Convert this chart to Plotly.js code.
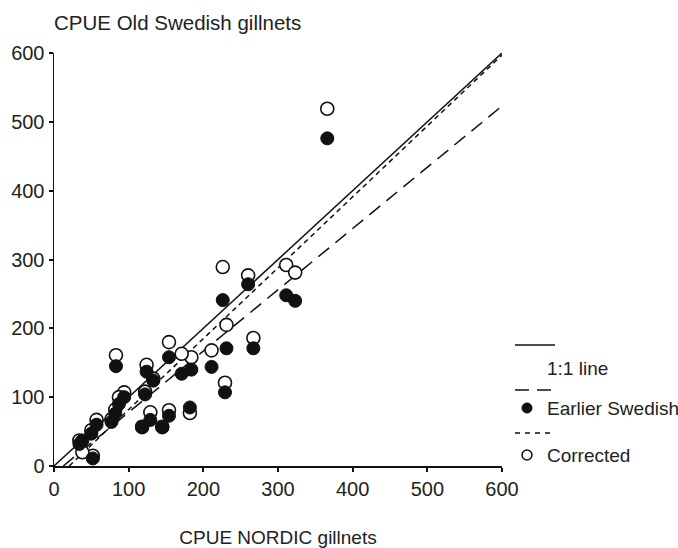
<!DOCTYPE html>
<html>
<head>
<meta charset="utf-8">
<script src="https://cdn.plot.ly/plotly-3.0.1.min.js"></script>
<style>html,body{margin:0;padding:0;background:#fff}#chart{width:678px;height:548px}</style>
</head>
<body>
<div id="chart"></div>
<script>
// CPUE NORDIC gillnets (x) for each sampling
const nordicX = [366, 226, 260, 311, 323, 231, 267, 229, 211, 184, 171, 182, 154, 154, 145, 129, 118, 133, 124, 122, 83, 94, 87, 82, 77, 57, 50, 52, 38, 34];
// CPUE Old Swedish gillnets, earlier Swedish values
const earlierY = [476, 241, 264, 248, 240, 171, 171, 107, 144, 140, 134, 85, 158, 73, 56, 67, 56, 124, 137, 104, 145, 100, 90, 76, 64, 60, 47, 11, 37, 32];
// CPUE Old Swedish gillnets, corrected values
const correctedY = [519, 289, 277, 292, 281, 205, 186, 121, 168, 158, 163, 77, 180, 81, 57, 78, 57, 127, 147, 108, 161, 107, 100, 82, 68, 67, 52, 15, 20, 37];
// Fitted lines: 1:1, Earlier Swedish regression, Corrected regression
const lineNames = ["1:1 line", "Earlier Swedish", "Corrected"];
const lineSlopes = [1.0, 0.89, 1.03];
const lineIntercepts = [0, -11, -21];
const axisMax = 600;
const tickVals = [0, 100, 200, 300, 400, 500, 600];

const dashes = ["solid", "14px,8px", "5px,4px"];
const lineTraces = lineSlopes.map((b, i) => {
  const a = lineIntercepts[i];
  const xStart = Math.max(0, -a / b);
  const xs = [xStart, axisMax];
  return {
    x: xs, y: xs.map(v => a + b * v), mode: "lines", name: lineNames[i],
    line: {color: "#111", width: 1.5, dash: dashes[i]}, hoverinfo: "skip"
  };
});

const corrected = {
  x: nordicX, y: correctedY, mode: "markers", name: "Corrected",
  marker: {symbol: "circle", size: 13, color: "#fff", line: {color: "#111", width: 1.6}}
};
const earlier = {
  x: nordicX, y: earlierY, mode: "markers", name: "Earlier Swedish",
  marker: {symbol: "circle", size: 13, color: "#111", line: {color: "#111", width: 1}}
};

const fontFam = "Liberation Sans, Arial, sans-serif";
const PX = px => (px - 54) / 448;
const PY = py => (466 - py) / 413;

const shapes = [
  {type: "line", xref: "paper", yref: "paper", x0: PX(515), x1: PX(555), y0: PY(345), y1: PY(345), line: {color: "#111", width: 1.5}},
  {type: "line", xref: "paper", yref: "paper", x0: PX(515), x1: PX(555), y0: PY(390), y1: PY(390), line: {color: "#111", width: 1.5, dash: "14px,8px"}},
  {type: "line", xref: "paper", yref: "paper", x0: PX(515), x1: PX(555), y0: PY(433), y1: PY(433), line: {color: "#111", width: 1.3, dash: "5px,5px"}},
  {type: "circle", xref: "paper", yref: "paper", xsizemode: "pixel", ysizemode: "pixel", xanchor: PX(527), yanchor: PY(408), x0: -5, x1: 5, y0: -5, y1: 5, fillcolor: "#111", line: {color: "#111", width: 1}},
  {type: "circle", xref: "paper", yref: "paper", xsizemode: "pixel", ysizemode: "pixel", xanchor: PX(527), yanchor: PY(455), x0: -5, x1: 5, y0: -5, y1: 5, fillcolor: "#fff", line: {color: "#111", width: 1.5}}
];
const legendText = [["1:1 line", 368], ["Earlier Swedish", 408], ["Corrected", 455]];
const annotations = legendText.map(([t, py]) => ({
  text: t, xref: "paper", yref: "paper", x: PX(545), y: PY(py), xanchor: "left", yanchor: "middle",
  showarrow: false, font: {family: fontFam, size: 19, color: "#222"}
}));

const layout = {
  width: 678, height: 548,
  margin: {l: 54, r: 176, t: 53, b: 82},
  paper_bgcolor: "#fff", plot_bgcolor: "#fff",
  showlegend: false,
  title: {text: "CPUE Old Swedish gillnets", xref: "container", yref: "container", x: 54 / 678, xanchor: "left", y: 1 - 23 / 548, yanchor: "middle", font: {family: fontFam, size: 20.5, color: "#222"}},
  xaxis: {
    range: [0, axisMax], tickvals: tickVals, ticks: "outside", ticklen: 4, tickwidth: 2, tickcolor: "#111",
    showline: true, linecolor: "#111", linewidth: 1.5, showgrid: false, zeroline: false,
    tickfont: {family: fontFam, size: 20, color: "#222"},
    title: {text: "CPUE NORDIC gillnets", standoff: 40, font: {family: fontFam, size: 19, color: "#222"}},
    automargin: false, fixedrange: true
  },
  yaxis: {
    range: [0, axisMax], tickvals: tickVals, ticks: "outside", ticklen: 4, tickwidth: 2, tickcolor: "#111",
    showline: true, linecolor: "#111", linewidth: 1.5, showgrid: false, zeroline: false,
    tickfont: {family: fontFam, size: 20, color: "#222"},
    automargin: false, fixedrange: true
  },
  shapes: shapes,
  annotations: annotations
};

Plotly.newPlot("chart", [...lineTraces, corrected, earlier], layout, {displayModeBar: false, staticPlot: true});
</script>
</body>
</html>
